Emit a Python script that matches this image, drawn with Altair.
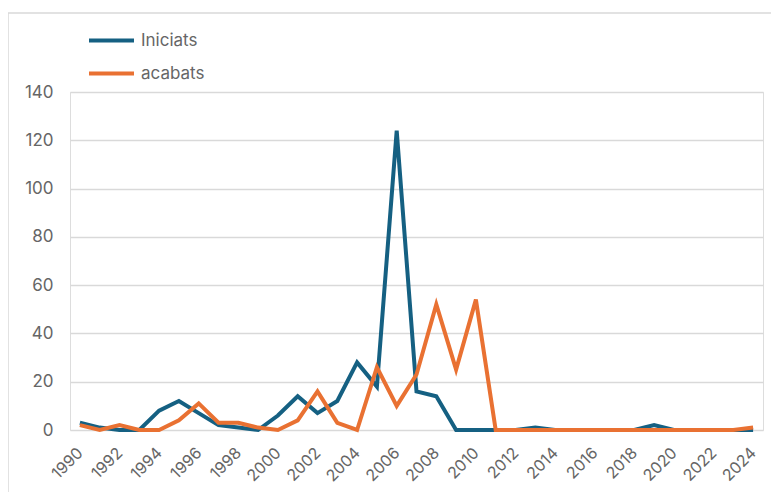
import altair as alt
import pandas as pd

years = list(range(1990, 2025))
iniciats = [3, 1, 0, 0, 8, 12, 7, 2, 1, 0, 6, 14, 7, 12, 28, 18, 124, 16, 14, 0,
            0, 0, 0, 1, 0, 0, 0, 0, 0, 2, 0, 0, 0, 0, 0]
acabats = [2, 0, 2, 0, 0, 4, 11, 3, 3, 1, 0, 4, 16, 3, 0, 26, 10, 23, 52, 25,
           54, 0, 0, 0, 0, 0, 0, 0, 0, 0, 0, 0, 0, 0, 1]
series_names = ["Iniciats", "acabats"]
series_colors = ["#156082", "#E97132"]
x_ticks = list(range(1990, 2025, 2))
y_ticks = list(range(0, 141, 20))

df = pd.DataFrame({"year": years, "Iniciats": iniciats, "acabats": acabats})
long = df.melt(id_vars="year", var_name="serie", value_name="valor")

W, H = 693, 338
FONT = "Inter"
GREY = "#666666"

lines = alt.Chart(long).mark_line(strokeWidth=4, strokeJoin="miter").encode(
    x=alt.X("year:Q",
            scale=alt.Scale(domain=[1989.5, 2024.5], nice=False, zero=False),
            axis=alt.Axis(values=x_ticks, format="d", grid=False, ticks=False,
                          domain=False, labelAngle=-45, labelAlign="right",
                          labelBaseline="middle", labelPadding=20,
                          labelFlush=False, labelOverlap=False,
                          labelFontSize=16, labelColor=GREY, labelFont=FONT,
                          title=None)),
    y=alt.Y("valor:Q",
            scale=alt.Scale(domain=[0, 140], nice=False),
            axis=alt.Axis(values=y_ticks, grid=True, gridColor="#D9D9D9",
                          gridWidth=1.5, ticks=False, domain=False,
                          labelPadding=17, labelFontSize=17, labelColor=GREY,
                          labelFont=FONT, title=None)),
    color=alt.Color("serie:N",
                    scale=alt.Scale(domain=series_names, range=series_colors),
                    legend=alt.Legend(title=None, orient="none", legendX=17,
                                      legendY=-76, symbolType="stroke",
                                      symbolSize=2025, symbolStrokeWidth=4,
                                      rowPadding=-20, padding=0,
                                      labelOffset=5, labelFontSize=17,
                                      labelColor=GREY, labelFont=FONT)),
)

frame_df = pd.DataFrame({"k": [0]})
left_border = alt.Chart(frame_df).mark_rule(color="#D9D9D9", strokeWidth=1.5).encode(
    x=alt.value(-62), y=alt.value(-79), y2=alt.value(H + 70))
top_border = alt.Chart(frame_df).mark_rule(color="#D9D9D9", strokeWidth=1.5).encode(
    y=alt.value(-79), x=alt.value(-62), x2=alt.value(W + 20))

chart = alt.layer(left_border, top_border, lines).properties(
    width=W, height=H,
    autosize=alt.AutoSizeParams(type="none"),
    padding={"left": 62, "top": 84, "right": 8, "bottom": 62},
).configure_view(stroke=None).configure(background="white")

chart.save("out.html", embed_options={"renderer": "svg", "actions": False})
